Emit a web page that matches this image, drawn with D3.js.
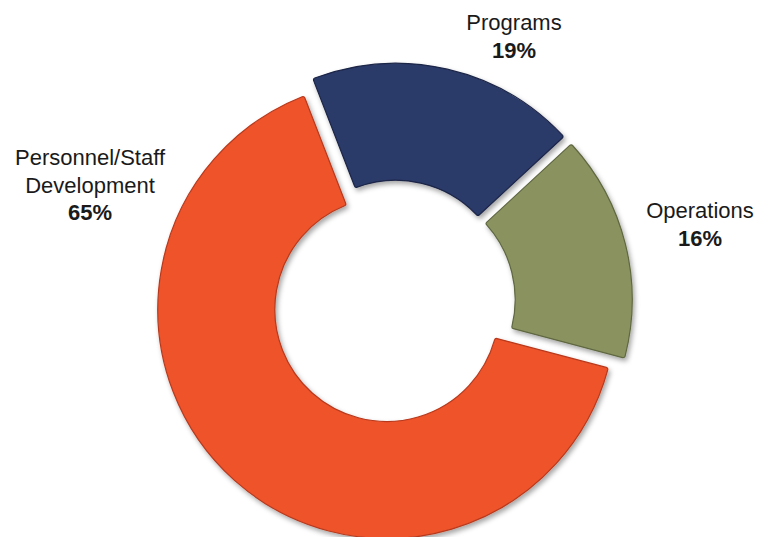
<!DOCTYPE html>
<html>
<head>
<meta charset="utf-8">
<script src="https://cdnjs.cloudflare.com/ajax/libs/d3/7.8.5/d3.min.js"></script>
<style>
  body { margin: 0; background: #fff; }
  text { font-family: "Liberation Sans", Arial, sans-serif; fill: #1a1a1a; }
</style>
</head>
<body>
<div id="chart"></div>
<script>
// chart data
var categories = ["Programs", "Operations", "Personnel/Staff Development"];
var shares = [19, 16, 65];
var colors = ["#2c3a6a", "#8a9360", "#ee532c"];
var edgeColors = ["#1b2547", "#5f6740", "#b8391b"];

// label anchors (page coords) and line breaks
var labelLines = [["Programs"], ["Operations"], ["Personnel/Staff", "Development"]];
var labelPos = [[514, 30], [700, 218], [90, 165]];

var width = 778,
  height = 537;

var cx = 393.5, cy = 302;
var outerR = 229, innerR = 112;
var explode = 10;
var startDeg = -21.2;

var svg = d3.select("#chart")
  .append("svg")
  .attr("width", width)
  .attr("height", height);

// soft shadow like the original bevel look
var defs = svg.append("defs");
var f = defs.append("filter")
  .attr("id", "shadow")
  .attr("x", "-20%").attr("y", "-20%")
  .attr("width", "140%").attr("height", "140%");
f.append("feDropShadow")
  .attr("dx", 2).attr("dy", 3)
  .attr("stdDeviation", 2.5)
  .attr("flood-color", "#000")
  .attr("flood-opacity", 0.35);

var pie = d3.pie()
  .sort(null)
  .value(function(d) { return d; })
  .startAngle(startDeg * Math.PI / 180)
  .endAngle(startDeg * Math.PI / 180 + 2 * Math.PI);

var arc = d3.arc()
  .innerRadius(innerR)
  .outerRadius(outerR)
  .cornerRadius(2);

var arcs = pie(shares);

var g = svg.append("g")
  .attr("transform", "translate(" + cx + "," + cy + ")");

g.selectAll("path.slice")
  .data(arcs)
  .enter().append("path")
  .attr("class", "slice")
  .attr("d", arc)
  .attr("transform", function(d) {
    var mid = (d.startAngle + d.endAngle) / 2;
    return "translate(" + (Math.sin(mid) * explode) + "," + (-Math.cos(mid) * explode) + ")";
  })
  .attr("fill", function(d, i) { return colors[i]; })
  .attr("stroke", function(d, i) { return edgeColors[i]; })
  .attr("stroke-width", 1.2)
  .attr("filter", "url(#shadow)");

//LABELS
var lbl = svg.selectAll("g.label")
  .data(arcs)
  .enter().append("g")
  .attr("class", "label")
  .attr("transform", function(d, i) {
    return "translate(" + labelPos[i][0] + "," + labelPos[i][1] + ")";
  });

lbl.each(function(d, i) {
  var t = d3.select(this);
  var lines = labelLines[i];
  lines.forEach(function(s, j) {
    t.append("text")
      .attr("text-anchor", "middle")
      .attr("y", j * 27.5)
      .attr("font-size", 22)
      .text(s);
  });
  t.append("text")
    .attr("text-anchor", "middle")
    .attr("y", lines.length * 27.5)
    .attr("font-size", 22)
    .attr("font-weight", "bold")
    .text(d.data + "%");
});
</script>
</body>
</html>
